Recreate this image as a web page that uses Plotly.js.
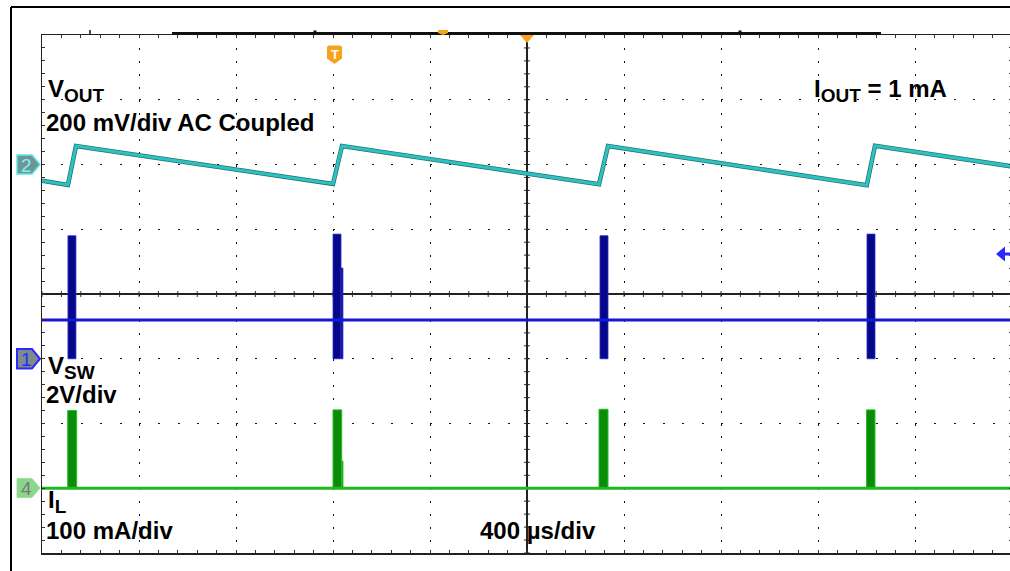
<!DOCTYPE html>
<html><head><meta charset="utf-8">
<script src="https://cdn.plot.ly/plotly-3.0.1.min.js"></script>
<style>html,body{margin:0;padding:0;overflow:hidden;background:#fff}#chart{width:1030px;height:571px}</style>
</head><body><div id="chart"></div><script>
// ---- data (time in µs, trigger at 0; 400 µs/div) ----
const voutT  = [-2000, -1893, -1860, -800, -763, 297, 334, 1401, 1435, 2000];
const voutMV = [-50, -63, 57, -60, 57, -61, 57, -64, 58, -6];

const vswBaseT = [-2000, 2000];
const vswBaseV = [1.2, 1.2];
const vswBurstStart = [-1893, -800, -767, 301, 1402];
const vswBurstEnd   = [-1860, -767, -759, 334, 1435];
const vswBurstHigh  = [3.8, 3.85, 2.8, 3.8, 3.85];
const vswBurstLow   = [0, 0, 0, 0, 0];

const ilBaseT  = [-2000, 2000];
const ilBaseMA = [0, 0];
const ilPulseStart = [-1894, -800, -764, 297, 1400];
const ilPulseEnd   = [-1857, -764, -759, 334, 1435];
const ilPulseHigh  = [120, 121, 42, 122, 121];
const ilPulseLow   = [0, 0, 0, 0, 0];

// channel settings (per division, ground marker position in divisions)
const timePerDiv = 400;
const ch2 = {perDiv: 200, offDiv: 2};   // VOUT mV
const ch1 = {perDiv: 2, offDiv: -1};    // VSW V
const ch4 = {perDiv: 100, offDiv: -3};  // IL mA
const chRange = c => [(-4 - c.offDiv) * c.perDiv, (4 - c.offDiv) * c.perDiv];

// ---- geometry helpers ----
const W = 1030, H = 571, L = 42, R = 18, T = 35, B = 18;
const PW = W - L - R, PH = H - T - B;
const fx = p => (p - L) / PW;
const fy = p => (H - B - p) / PH;
const poly = pts => 'M' + pts.map(p => fx(p[0]).toFixed(5) + ',' + fy(p[1]).toFixed(5)).join('L') + 'Z';

const mid = (a, b) => a.map((v, i) => (v + b[i]) / 2);
const diff = (a, b) => a.map((v, i) => b[i] - v);

const traces = [
  {x: voutT, y: voutMV, xaxis: 'x', yaxis: 'y2', mode: 'lines', line: {color: '#1d7272', width: 4.5}},
  {x: voutT, y: voutMV, xaxis: 'x', yaxis: 'y2', mode: 'lines', line: {color: '#2fc0c0', width: 3}},
  {type: 'bar', x: mid(vswBurstStart, vswBurstEnd), width: diff(vswBurstStart, vswBurstEnd),
   base: vswBurstLow, y: diff(vswBurstLow, vswBurstHigh), xaxis: 'x', yaxis: 'y3',
   marker: {color: '#07078a', line: {width: 0.8, color: '#2b2bd0'}}},
  {x: vswBaseT, y: vswBaseV, xaxis: 'x', yaxis: 'y3', mode: 'lines', line: {color: '#1717d8', width: 3}},
  {type: 'bar', x: mid(ilPulseStart, ilPulseEnd), width: diff(ilPulseStart, ilPulseEnd),
   base: ilPulseLow, y: diff(ilPulseLow, ilPulseHigh), xaxis: 'x', yaxis: 'y4',
   marker: {color: '#0a8c0a', line: {width: 1, color: '#22c022'}}},
  {x: ilBaseT, y: ilBaseMA, xaxis: 'x', yaxis: 'y4', mode: 'lines', line: {color: '#1fb81f', width: 3}}
];

const xr = [-5 * timePerDiv, 5 * timePerDiv];
const font = 'Liberation Sans, Arial, sans-serif';
const ann = (text, x, y, size, color, anchor) => ({text: text, xref: 'paper', yref: 'paper',
  x: fx(x), y: fy(y), xanchor: anchor || 'left', yanchor: 'middle', showarrow: false,
  font: {family: font, size: size, color: color || '#000'}, borderpad: 0});

const orange = '#f7a21b';
const shapes = [
  // outer frame
  {type: 'line', xref: 'paper', yref: 'paper', x0: fx(11), x1: fx(1030), y0: fy(7), y1: fy(7), line: {color: '#000', width: 2}},
  {type: 'line', xref: 'paper', yref: 'paper', x0: fx(11), x1: fx(11), y0: fy(7), y1: fy(600), line: {color: '#000', width: 2}},
  // record bar on top
  {type: 'line', xref: 'paper', yref: 'paper', x0: fx(172), x1: fx(881), y0: fy(33.5), y1: fy(33.5), line: {color: '#111', width: 3}},
  {type: 'line', xref: 'paper', yref: 'paper', x0: fx(90), x1: fx(90), y0: fy(30), y1: fy(34), line: {color: '#111', width: 1.5}},
  {type: 'rect', xref: 'paper', yref: 'paper', x0: fx(313.5), x1: fx(316.5), y0: fy(30.5), y1: fy(33.5), fillcolor: '#111', line: {width: 0}},
  {type: 'rect', xref: 'paper', yref: 'paper', x0: fx(738.5), x1: fx(741.5), y0: fy(30.5), y1: fy(33.5), fillcolor: '#111', line: {width: 0}},
  {type: 'path', xref: 'paper', yref: 'paper', path: poly([[438, 30], [448, 30], [448, 33], [443, 35], [438, 33]]), fillcolor: orange, line: {width: 0}},
  // trigger position marker
  {type: 'path', xref: 'paper', yref: 'paper', path: poly([[520, 35], [534, 35], [527, 43]]), fillcolor: orange, line: {width: 0}},
  // trigger "T" marker
  {type: 'path', xref: 'paper', yref: 'paper', path: poly([[328.5, 45.5], [340.5, 45.5], [342, 47], [342, 58.5], [334.5, 64], [327, 58.5], [327, 47]]), fillcolor: orange, line: {width: 0}},
  // trigger level arrow on right
  {type: 'path', xref: 'paper', yref: 'paper', path: poly([[996, 254], [1005, 246.5], [1005, 252.5], [1012, 252.5], [1012, 255.5], [1005, 255.5], [1005, 261.5]]), fillcolor: '#2a2aff', line: {width: 0}},
  // channel ground markers
  {type: 'path', xref: 'paper', yref: 'paper', path: poly([[17, 155], [32, 155], [40, 164.5], [32, 174], [17, 174]]), fillcolor: '#6e9696', line: {color: '#5ee6e6', width: 1.5}},
  {type: 'path', xref: 'paper', yref: 'paper', path: poly([[17, 349], [32, 349], [40, 358.75], [32, 368.5], [17, 368.5]]), fillcolor: '#7f8a8a', line: {color: '#2a2aff', width: 2}},
  {type: 'path', xref: 'paper', yref: 'paper', path: poly([[17, 478.5], [32, 478.5], [40, 488], [32, 497.5], [17, 497.5]]), fillcolor: '#8cd68c', line: {color: '#9ae09a', width: 1}}
];
// minor tick marks crossing the centre graticule lines
const tickHalfT = 3 / (PW / 10) * timePerDiv;   // 3 px in µs
const tickHalfDiv = 3 / (PH / 8);                // 3 px in divisions
for (let k = -25; k <= 25; k++) {
  shapes.push({type: 'line', xref: 'x', yref: 'y', x0: k * timePerDiv / 5, x1: k * timePerDiv / 5,
    y0: -tickHalfDiv, y1: tickHalfDiv, line: {color: '#333', width: 1}, layer: 'below'});
}
for (let k = -20; k <= 20; k++) {
  shapes.push({type: 'line', xref: 'x', yref: 'y', x0: -tickHalfT, x1: tickHalfT,
    y0: k * 0.2, y1: k * 0.2, line: {color: '#333', width: 1}, layer: 'below'});
}

const sub = s => '<sub><span style="font-size:19px">' + s + '</span></sub>';
const annotations = [
  ann('<b>V' + sub('OUT') + '</b>', 47, 90, 24),
  ann('<b>200 mV/div AC Coupled</b>', 45, 122, 24),
  ann('<b>I' + sub('OUT') + ' = 1 mA</b>', 813, 90, 24),
  ann('<b>V' + sub('SW') + '</b>', 47, 367, 24),
  ann('<b>2V/div</b>', 45, 395, 24),
  ann('<b>I' + sub('L') + '</b>', 47, 501, 24),
  ann('<b>100 mA/div</b>', 45, 530, 24),
  ann('<b>400 µs/div</b>', 479, 530, 24),
  ann('2', 26, 165, 19, '#7df2f2', 'center'),
  ann('1', 26, 359, 19, '#2a2aff', 'center'),
  ann('4', 26, 488, 19, '#777', 'center'),
  ann('<b>T</b>', 334.5, 54, 13, '#fff', 'center')
];

const layout = {
  width: W, height: H, margin: {l: L, r: R, t: T, b: B, pad: 0},
  paper_bgcolor: '#fff', plot_bgcolor: 'rgba(0,0,0,0)', showlegend: false, barmode: 'overlay',
  xaxis: {range: xr, tick0: xr[0], dtick: timePerDiv, showgrid: true, gridcolor: '#111', gridwidth: 1,
    griddash: '2px,10.95px', zeroline: true, zerolinecolor: '#222', zerolinewidth: 1.5,
    showline: true, linecolor: '#222', linewidth: 1.5, mirror: 'ticks', ticks: 'inside', ticklen: 3,
    tickcolor: '#333', showticklabels: false, fixedrange: true,
    minor: {dtick: timePerDiv / 5, ticks: 'inside', ticklen: 3, tickcolor: '#333', showgrid: false}},
  yaxis: {range: [-4, 4], tick0: -4, dtick: 1, showgrid: true, gridcolor: '#111', gridwidth: 1,
    griddash: '2px,17.4px', zeroline: true, zerolinecolor: '#222', zerolinewidth: 1.5,
    showline: true, linecolor: '#222', linewidth: 1.5, mirror: 'ticks', ticks: 'inside', ticklen: 3,
    tickcolor: '#333', showticklabels: false, fixedrange: true,
    minor: {dtick: 0.2, ticks: 'inside', ticklen: 3, tickcolor: '#333', showgrid: false}},
  yaxis2: {overlaying: 'y', range: chRange(ch2), visible: false, fixedrange: true},
  yaxis3: {overlaying: 'y', range: chRange(ch1), visible: false, fixedrange: true},
  yaxis4: {overlaying: 'y', range: chRange(ch4), visible: false, fixedrange: true},
  shapes: shapes,
  annotations: annotations
};

Plotly.newPlot('chart', traces, layout, {staticPlot: true, displayModeBar: false});
</script></body></html>
